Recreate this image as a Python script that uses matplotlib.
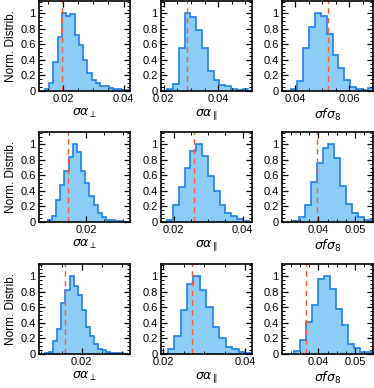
import matplotlib
matplotlib.use('Agg')
import matplotlib.pyplot as plt
import numpy as np
from matplotlib.ticker import MultipleLocator, FuncFormatter

plt.rcParams['font.family'] = ['Liberation Sans', 'DejaVu Sans']
plt.rcParams['mathtext.fontset'] = 'dejavusans'

# normalised histograms, rows = three cases, columns = (alpha_perp, alpha_par, f sigma8)
h_perp_1 = [0.02, 0.10, 0.38, 0.70, 1.0, 0.97, 0.99, 0.72, 0.59, 0.40, 0.23, 0.14, 0.10, 0.07, 0.06, 0.04, 0.02, 0.02, 0.01, 0.01]
h_par_1 = [0.02, 0.09, 0.55, 1.0, 0.96, 0.78, 0.55, 0.26, 0.145, 0.08, 0.06, 0.03, 0.015, 0.03]
h_fs8_1 = [0.005, 0.03, 0.13, 0.56, 0.82, 1.0, 0.97, 0.74, 0.47, 0.30, 0.14, 0.05, 0.02, 0.015, 0.04]

h_perp_2 = [0.02, 0.08, 0.29, 0.48, 0.66, 0.84, 1.0, 0.90, 0.66, 0.50, 0.33, 0.22, 0.12, 0.07, 0.03, 0.02, 0.015, 0.01, 0.005]
h_par_2 = [0.03, 0.22, 0.45, 0.70, 0.92, 1.0, 0.85, 0.59, 0.40, 0.22, 0.12, 0.08, 0.04, 0.01]
h_fs8_2 = [0.01, 0.07, 0.22, 0.51, 0.76, 0.96, 1.0, 0.82, 0.46, 0.23, 0.11, 0.06, 0.02, 0.02]

h_perp_3 = [0.01, 0.03, 0.17, 0.32, 0.66, 0.83, 1.0, 0.88, 0.76, 0.57, 0.35, 0.23, 0.13, 0.07, 0.05, 0.03, 0.015, 0.01, 0.01, 0.005]
h_par_3 = [0.005, 0.06, 0.23, 0.57, 0.90, 1.0, 0.83, 0.60, 0.35, 0.20, 0.09, 0.06, 0.03, 0.01]
h_fs8_3 = [0.005, 0.04, 0.18, 0.41, 0.63, 0.97, 1.0, 0.84, 0.58, 0.37, 0.13, 0.08, 0.03, 0.02]

# first bin edge and bin width of each histogram
bin_start = [[0.01406, 0.02124, 0.03625],
             [0.00954, 0.01809, 0.03305],
             [0.01090, 0.01941, 0.03190]]
bin_width = [[0.00140, 0.00213, 0.00219],
             [0.00114, 0.00169, 0.00162],
             [0.00101, 0.00159, 0.00162]]

# dashed reference values
ref_perp = [0.0197, 0.0151, 0.0159]
ref_par = [0.0286, 0.0260, 0.0270]
ref_fs8 = [0.0519, 0.0397, 0.0368]

xlims = [[(0.0121, 0.0421), (0.0190, 0.0524), (0.0350, 0.0688)],
         [(0.0072, 0.0320), (0.0163, 0.0427), (0.0302, 0.0548)],
         [(0.0094, 0.0319), (0.0194, 0.0417), (0.0302, 0.0548)]]
xmajor = [[0.02, 0.02, 0.02], [0.02, 0.02, 0.01], [0.02, 0.02, 0.01]]
xminor = [[0.005, 0.005, 0.005], [0.005, 0.005, 0.0025], [0.005, 0.005, 0.0025]]

xlabels = [r'$\sigma\alpha_{\perp}$', r'$\sigma\alpha_{\parallel}$', r'$\sigma f\sigma_8$']

heights = [[h_perp_1, h_par_1, h_fs8_1],
           [h_perp_2, h_par_2, h_fs8_2],
           [h_perp_3, h_par_3, h_fs8_3]]
refs = [[ref_perp[k], ref_par[k], ref_fs8[k]] for k in range(3)]

W, H = 374, 388
fig = plt.figure(figsize=(W / 100, H / 100), dpi=100)

lefts = [39, 161, 282]
bottoms = [91, 222, 354]

for i in range(3):
    for j in range(3):
        ax = fig.add_axes([lefts[j] / W, 1 - bottoms[i] / H, 91 / W, 90 / H])
        h = heights[i][j]
        edges = bin_start[i][j] + bin_width[i][j] * np.arange(len(h) + 1)
        ax.stairs(h, edges, fill=True, color='#8ccdf8', lw=0)
        ax.stairs(h, edges, color='#1f7fef', lw=1.2)
        ax.axvline(refs[i][j], color='#ff5a2a', ls=(0, (4, 3)), lw=1.0)

        ax.set_xlim(*xlims[i][j])
        ax.set_ylim(0, 1.16)
        ax.xaxis.set_major_locator(MultipleLocator(xmajor[i][j]))
        ax.xaxis.set_minor_locator(MultipleLocator(xminor[i][j]))
        ax.yaxis.set_major_locator(MultipleLocator(0.2))
        ax.yaxis.set_minor_locator(MultipleLocator(0.05))
        ax.yaxis.set_major_formatter(FuncFormatter(lambda v, p: '%g' % round(v, 2)))
        ax.xaxis.set_major_formatter(FuncFormatter(lambda v, p: '%g' % round(v, 3)))
        ax.tick_params(which='both', direction='in', top=True, right=True,
                       labelsize=8, pad=2.5)
        ax.tick_params(which='major', length=4, width=0.9)
        ax.tick_params(which='minor', length=2, width=0.7)
        for s in ax.spines.values():
            s.set_linewidth(1.2)
        ax.set_xlabel(xlabels[j], fontsize=9, labelpad=2)
        if j == 0:
            ax.set_ylabel('Norm. Distrib.', fontsize=8.5, labelpad=2)

fig.savefig('out.png', dpi=100)
